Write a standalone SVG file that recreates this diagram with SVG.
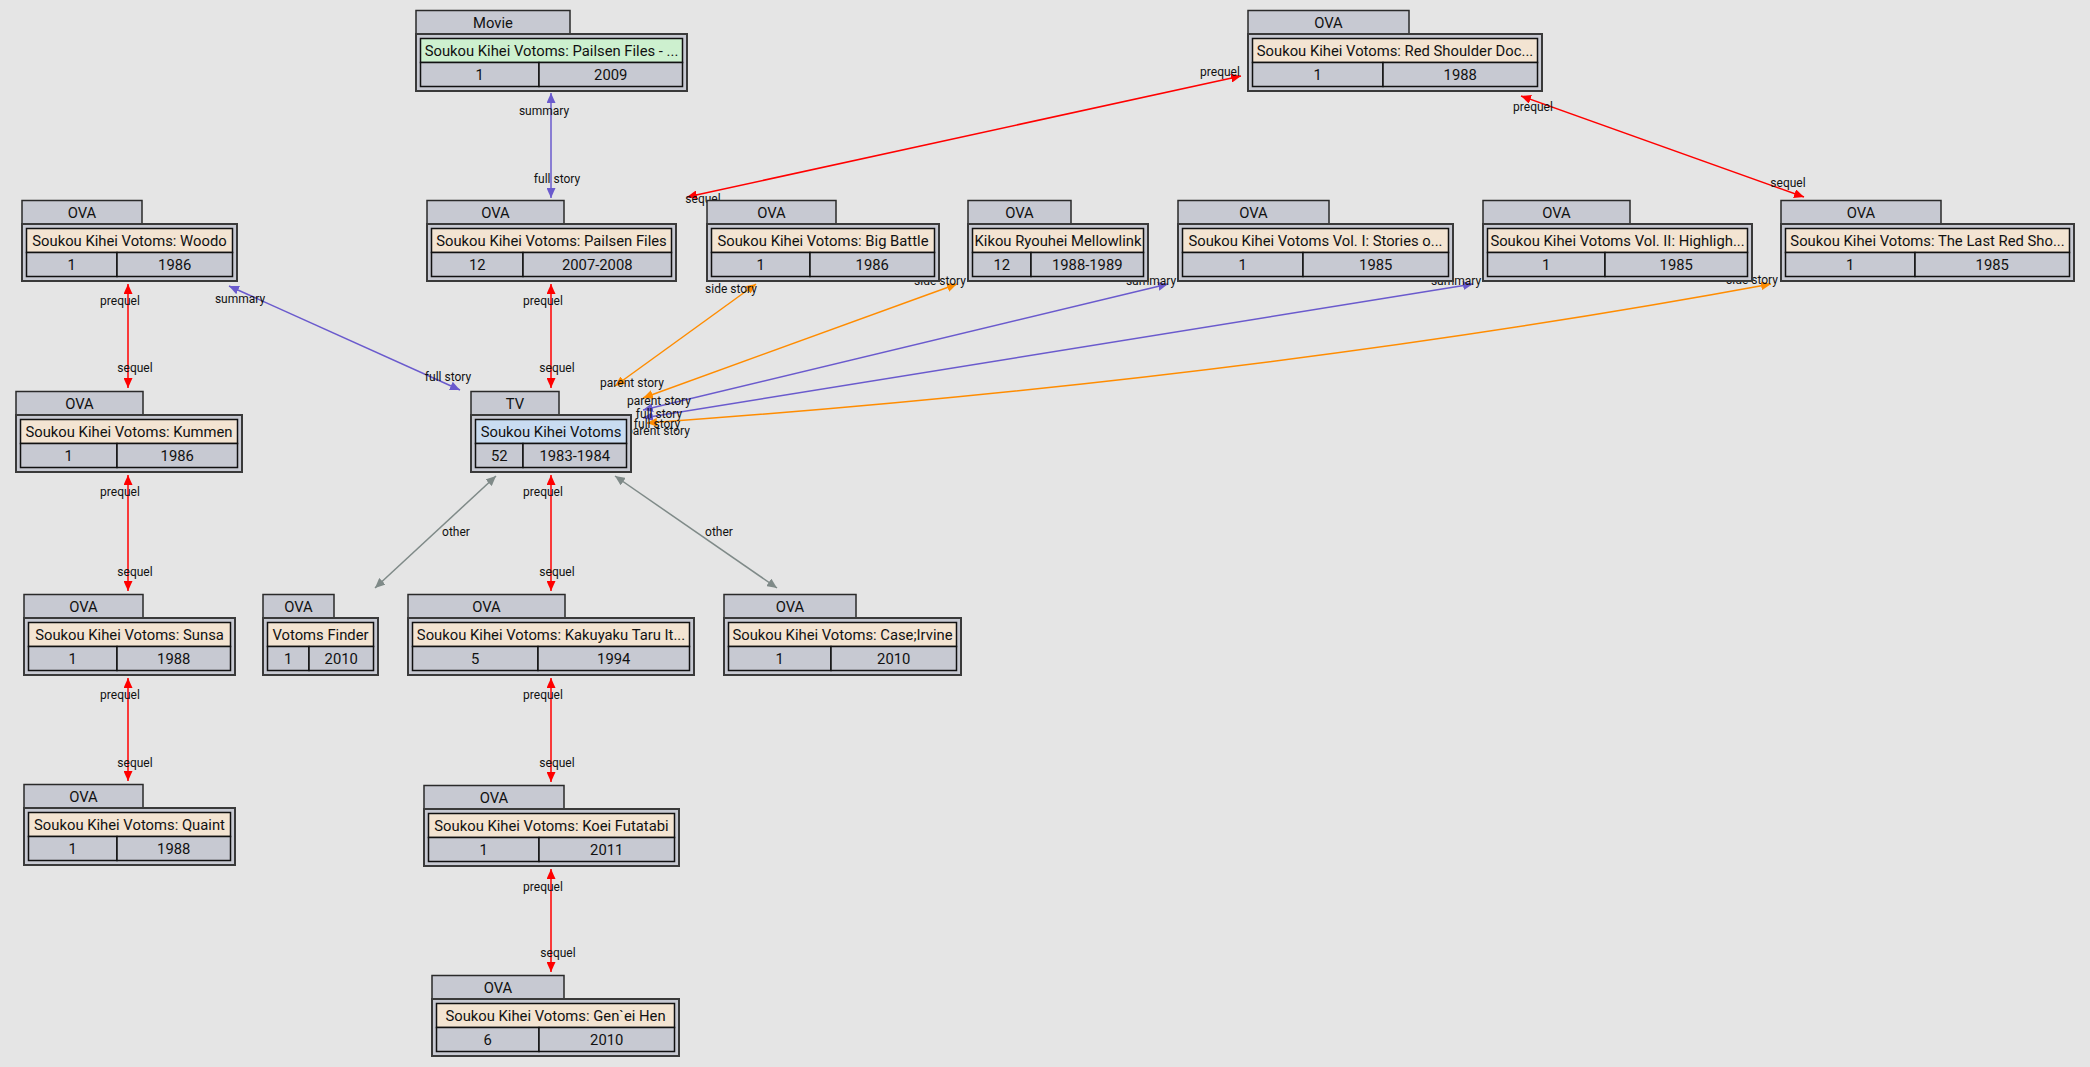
<svg xmlns="http://www.w3.org/2000/svg" width="2090" height="1067" viewBox="0 0 2090 1067">
<style>
text{font-family:Roboto,"Liberation Sans",sans-serif;fill:#111}
.tab,.box,.cell{fill:#c7c9d2}
.tab{stroke:#2a2a2a;stroke-width:1.5}
.box{stroke:#3a3a3a;stroke-width:2}
.cell{stroke:#111;stroke-width:1.5}
.ova{fill:#f3e4d2;stroke:#111;stroke-width:1.5}
.mov{fill:#cdf0cf;stroke:#111;stroke-width:1.5}
.tv{fill:#c9dcf1;stroke:#111;stroke-width:1.5}
.n text{font-size:14.8px;text-anchor:middle}
.e{fill:none;stroke-width:1.5}
.r{stroke:#ff0000}.p{stroke:#6a5acd}.o{stroke:#ff8c00}.g{stroke:#7f8a88}
.l text{font-size:12px;text-anchor:middle}
</style>
<defs>
<marker id="ar" viewBox="0 0 10 9" refX="10" refY="4.5" markerWidth="10" markerHeight="9" markerUnits="userSpaceOnUse" orient="auto-start-reverse"><path d="M0,0L10,4.5L0,9z" fill="#ff0000"/></marker>
<marker id="ap" viewBox="0 0 10 9" refX="10" refY="4.5" markerWidth="10" markerHeight="9" markerUnits="userSpaceOnUse" orient="auto-start-reverse"><path d="M0,0L10,4.5L0,9z" fill="#6a5acd"/></marker>
<marker id="ao" viewBox="0 0 10 9" refX="10" refY="4.5" markerWidth="10" markerHeight="9" markerUnits="userSpaceOnUse" orient="auto-start-reverse"><path d="M0,0L10,4.5L0,9z" fill="#ff8c00"/></marker>
<marker id="ag" viewBox="0 0 10 9" refX="10" refY="4.5" markerWidth="10" markerHeight="9" markerUnits="userSpaceOnUse" orient="auto-start-reverse"><path d="M0,0L10,4.5L0,9z" fill="#7f8a88"/></marker>
</defs>
<rect width="2090" height="1067" fill="#e5e5e5"/>

<g id="edges">
<path class="e p" d="M551,93L551,198" marker-start="url(#ap)" marker-end="url(#ap)"/>
<path class="e p" d="M229,286L460,390" marker-start="url(#ap)" marker-end="url(#ap)"/>
<path class="e r" d="M551,284L551,388" marker-start="url(#ar)" marker-end="url(#ar)"/>
<path class="e r" d="M128,284L128,388" marker-start="url(#ar)" marker-end="url(#ar)"/>
<path class="e r" d="M128,475L128,591" marker-start="url(#ar)" marker-end="url(#ar)"/>
<path class="e r" d="M128,678L128,781" marker-start="url(#ar)" marker-end="url(#ar)"/>
<path class="e g" d="M496,476L375,588" marker-start="url(#ag)" marker-end="url(#ag)"/>
<path class="e r" d="M551,475L551,591" marker-start="url(#ar)" marker-end="url(#ar)"/>
<path class="e g" d="M615,476L777,588" marker-start="url(#ag)" marker-end="url(#ag)"/>
<path class="e r" d="M551,678L551,782" marker-start="url(#ar)" marker-end="url(#ar)"/>
<path class="e r" d="M551,869L551,972" marker-start="url(#ar)" marker-end="url(#ar)"/>
<path class="e r" d="M1241,76L687,197" marker-start="url(#ar)" marker-end="url(#ar)"/>
<path class="e r" d="M1521,96L1804,197" marker-start="url(#ar)" marker-end="url(#ar)"/>
<path class="e o" d="M756,284L615,386" marker-start="url(#ao)" marker-end="url(#ao)"/>
<path class="e o" d="M957,284L643,398" marker-start="url(#ao)" marker-end="url(#ao)"/>
<path class="e p" d="M1168,284L643,410" marker-start="url(#ap)" marker-end="url(#ap)"/>
<path class="e p" d="M1473,284L643,418" marker-start="url(#ap)" marker-end="url(#ap)"/>
<path class="e o" d="M1771,284Q1250,380 647,423" marker-start="url(#ao)" marker-end="url(#ao)"/>
</g>

<g id="edge-labels" class="l">
<text x="544" y="115">summary</text><text x="557" y="183">full story</text>
<text x="240" y="303">summary</text><text x="448" y="381">full story</text>
<text x="543" y="305">prequel</text><text x="557" y="372">sequel</text>
<text x="120" y="305">prequel</text><text x="135" y="372">sequel</text>
<text x="120" y="496">prequel</text><text x="135" y="576">sequel</text>
<text x="120" y="699">prequel</text><text x="135" y="767">sequel</text>
<text x="456" y="536">other</text>
<text x="543" y="496">prequel</text><text x="557" y="576">sequel</text>
<text x="719" y="536">other</text>
<text x="543" y="699">prequel</text><text x="557" y="767">sequel</text>
<text x="543" y="891">prequel</text><text x="558" y="957">sequel</text>
<text x="1220" y="76">prequel</text><text x="703" y="203">sequel</text>
<text x="1533" y="111">prequel</text><text x="1788" y="187">sequel</text>
<text x="731" y="293">side story</text><text x="632" y="387">parent story</text>
<text x="940" y="285">side story</text><text x="659" y="405">parent story</text>
<text x="1151" y="285">summary</text><text x="659" y="418">full story</text>
<text x="1456" y="285">summary</text><text x="657" y="428">full story</text>
<text x="1752" y="284">side story</text><text x="658" y="435">parent story</text>
</g>

<g id="n-movie" class="n">
<rect class="tab" x="416" y="10.5" width="154" height="23.5"/><text x="493" y="27.5">Movie</text>
<rect class="box" x="416" y="34" width="271" height="57"/>
<rect class="mov" x="420.5" y="38.5" width="262" height="24"/><text x="551.5" y="55.5">Soukou Kihei Votoms: Pailsen Files - ...</text>
<rect class="cell" x="420.5" y="62.5" width="118.5" height="24"/><text x="479.75" y="79.5">1</text>
<rect class="cell" x="539" y="62.5" width="143.5" height="24"/><text x="610.75" y="79.5">2009</text>
</g>

<g id="n-redshoulderdoc" class="n">
<rect class="tab" x="1248" y="10.5" width="161" height="23.5"/><text x="1328.5" y="27.5">OVA</text>
<rect class="box" x="1248" y="34" width="294" height="57"/>
<rect class="ova" x="1252.5" y="38.5" width="285" height="24"/><text x="1395" y="55.5">Soukou Kihei Votoms: Red Shoulder Doc...</text>
<rect class="cell" x="1252.5" y="62.5" width="130.5" height="24"/><text x="1317.75" y="79.5">1</text>
<rect class="cell" x="1383" y="62.5" width="154.5" height="24"/><text x="1460.25" y="79.5">1988</text>
</g>

<g id="n-woodo" class="n">
<rect class="tab" x="22" y="200.5" width="120" height="23.5"/><text x="82" y="217.5">OVA</text>
<rect class="box" x="22" y="224" width="215" height="57"/>
<rect class="ova" x="26.5" y="228.5" width="206" height="24"/><text x="129.5" y="245.5">Soukou Kihei Votoms: Woodo</text>
<rect class="cell" x="26.5" y="252.5" width="90.5" height="24"/><text x="71.75" y="269.5">1</text>
<rect class="cell" x="117" y="252.5" width="115.5" height="24"/><text x="174.75" y="269.5">1986</text>
</g>

<g id="n-pailsen" class="n">
<rect class="tab" x="427" y="200.5" width="137" height="23.5"/><text x="495.5" y="217.5">OVA</text>
<rect class="box" x="427" y="224" width="249" height="57"/>
<rect class="ova" x="431.5" y="228.5" width="240" height="24"/><text x="551.5" y="245.5">Soukou Kihei Votoms: Pailsen Files</text>
<rect class="cell" x="431.5" y="252.5" width="91.5" height="24"/><text x="477.25" y="269.5">12</text>
<rect class="cell" x="523" y="252.5" width="148.5" height="24"/><text x="597.25" y="269.5">2007-2008</text>
</g>

<g id="n-bigbattle" class="n">
<rect class="tab" x="707" y="200.5" width="129" height="23.5"/><text x="771.5" y="217.5">OVA</text>
<rect class="box" x="707" y="224" width="232" height="57"/>
<rect class="ova" x="711.5" y="228.5" width="223" height="24"/><text x="823" y="245.5">Soukou Kihei Votoms: Big Battle</text>
<rect class="cell" x="711.5" y="252.5" width="98.5" height="24"/><text x="760.75" y="269.5">1</text>
<rect class="cell" x="810" y="252.5" width="124.5" height="24"/><text x="872.25" y="269.5">1986</text>
</g>

<g id="n-mellowlink" class="n">
<rect class="tab" x="968" y="200.5" width="103" height="23.5"/><text x="1019.5" y="217.5">OVA</text>
<rect class="box" x="968" y="224" width="180" height="57"/>
<rect class="ova" x="972.5" y="228.5" width="171" height="24"/><text x="1058" y="245.5">Kikou Ryouhei Mellowlink</text>
<rect class="cell" x="972.5" y="252.5" width="58.5" height="24"/><text x="1001.75" y="269.5">12</text>
<rect class="cell" x="1031" y="252.5" width="112.5" height="24"/><text x="1087.25" y="269.5">1988-1989</text>
</g>

<g id="n-stories" class="n">
<rect class="tab" x="1178" y="200.5" width="151" height="23.5"/><text x="1253.5" y="217.5">OVA</text>
<rect class="box" x="1178" y="224" width="275" height="57"/>
<rect class="ova" x="1182.5" y="228.5" width="266" height="24"/><text x="1315.5" y="245.5">Soukou Kihei Votoms Vol. I: Stories o...</text>
<rect class="cell" x="1182.5" y="252.5" width="120.5" height="24"/><text x="1242.75" y="269.5">1</text>
<rect class="cell" x="1303" y="252.5" width="145.5" height="24"/><text x="1375.75" y="269.5">1985</text>
</g>

<g id="n-highlights" class="n">
<rect class="tab" x="1483" y="200.5" width="147" height="23.5"/><text x="1556.5" y="217.5">OVA</text>
<rect class="box" x="1483" y="224" width="269" height="57"/>
<rect class="ova" x="1487.5" y="228.5" width="260" height="24"/><text x="1617.5" y="245.5">Soukou Kihei Votoms Vol. II: Highligh...</text>
<rect class="cell" x="1487.5" y="252.5" width="117.5" height="24"/><text x="1546.25" y="269.5">1</text>
<rect class="cell" x="1605" y="252.5" width="142.5" height="24"/><text x="1676.25" y="269.5">1985</text>
</g>

<g id="n-lastred" class="n">
<rect class="tab" x="1781" y="200.5" width="160" height="23.5"/><text x="1861" y="217.5">OVA</text>
<rect class="box" x="1781" y="224" width="293" height="57"/>
<rect class="ova" x="1785.5" y="228.5" width="284" height="24"/><text x="1927.5" y="245.5">Soukou Kihei Votoms: The Last Red Sho...</text>
<rect class="cell" x="1785.5" y="252.5" width="129.5" height="24"/><text x="1850.25" y="269.5">1</text>
<rect class="cell" x="1915" y="252.5" width="154.5" height="24"/><text x="1992.25" y="269.5">1985</text>
</g>

<g id="n-kummen" class="n">
<rect class="tab" x="16" y="391.5" width="127" height="23.5"/><text x="79.5" y="408.5">OVA</text>
<rect class="box" x="16" y="415" width="226" height="57"/>
<rect class="ova" x="20.5" y="419.5" width="217" height="24"/><text x="129" y="436.5">Soukou Kihei Votoms: Kummen</text>
<rect class="cell" x="20.5" y="443.5" width="96.5" height="24"/><text x="68.75" y="460.5">1</text>
<rect class="cell" x="117" y="443.5" width="120.5" height="24"/><text x="177.25" y="460.5">1986</text>
</g>

<g id="n-tv" class="n">
<rect class="tab" x="471" y="391.5" width="88" height="23.5"/><text x="515" y="408.5">TV</text>
<rect class="box" x="471" y="415" width="160" height="57"/>
<rect class="tv" x="475.5" y="419.5" width="151" height="24"/><text x="551" y="436.5">Soukou Kihei Votoms</text>
<rect class="cell" x="475.5" y="443.5" width="47.5" height="24"/><text x="499.25" y="460.5">52</text>
<rect class="cell" x="523" y="443.5" width="103.5" height="24"/><text x="574.75" y="460.5">1983-1984</text>
</g>

<g id="n-sunsa" class="n">
<rect class="tab" x="24" y="594.5" width="119" height="23.5"/><text x="83.5" y="611.5">OVA</text>
<rect class="box" x="24" y="618" width="211" height="57"/>
<rect class="ova" x="28.5" y="622.5" width="202" height="24"/><text x="129.5" y="639.5">Soukou Kihei Votoms: Sunsa</text>
<rect class="cell" x="28.5" y="646.5" width="88.5" height="24"/><text x="72.75" y="663.5">1</text>
<rect class="cell" x="117" y="646.5" width="113.5" height="24"/><text x="173.75" y="663.5">1988</text>
</g>

<g id="n-finder" class="n">
<rect class="tab" x="263" y="594.5" width="71" height="23.5"/><text x="298.5" y="611.5">OVA</text>
<rect class="box" x="263" y="618" width="115" height="57"/>
<rect class="ova" x="267.5" y="622.5" width="106" height="24"/><text x="320.5" y="639.5">Votoms Finder</text>
<rect class="cell" x="267.5" y="646.5" width="41.5" height="24"/><text x="288.25" y="663.5">1</text>
<rect class="cell" x="309" y="646.5" width="64.5" height="24"/><text x="341.25" y="663.5">2010</text>
</g>

<g id="n-kakuyaku" class="n">
<rect class="tab" x="408" y="594.5" width="157" height="23.5"/><text x="486.5" y="611.5">OVA</text>
<rect class="box" x="408" y="618" width="286" height="57"/>
<rect class="ova" x="412.5" y="622.5" width="277" height="24"/><text x="551" y="639.5">Soukou Kihei Votoms: Kakuyaku Taru It...</text>
<rect class="cell" x="412.5" y="646.5" width="125.5" height="24"/><text x="475.25" y="663.5">5</text>
<rect class="cell" x="538" y="646.5" width="151.5" height="24"/><text x="613.75" y="663.5">1994</text>
</g>

<g id="n-caseirvine" class="n">
<rect class="tab" x="724" y="594.5" width="132" height="23.5"/><text x="790" y="611.5">OVA</text>
<rect class="box" x="724" y="618" width="237" height="57"/>
<rect class="ova" x="728.5" y="622.5" width="228" height="24"/><text x="842.5" y="639.5">Soukou Kihei Votoms: Case;Irvine</text>
<rect class="cell" x="728.5" y="646.5" width="102.5" height="24"/><text x="779.75" y="663.5">1</text>
<rect class="cell" x="831" y="646.5" width="125.5" height="24"/><text x="893.75" y="663.5">2010</text>
</g>

<g id="n-quaint" class="n">
<rect class="tab" x="24" y="784.5" width="119" height="23.5"/><text x="83.5" y="801.5">OVA</text>
<rect class="box" x="24" y="808" width="211" height="57"/>
<rect class="ova" x="28.5" y="812.5" width="202" height="24"/><text x="129.5" y="829.5">Soukou Kihei Votoms: Quaint</text>
<rect class="cell" x="28.5" y="836.5" width="88.5" height="24"/><text x="72.75" y="853.5">1</text>
<rect class="cell" x="117" y="836.5" width="113.5" height="24"/><text x="173.75" y="853.5">1988</text>
</g>

<g id="n-koei" class="n">
<rect class="tab" x="424" y="785.5" width="140" height="23.5"/><text x="494" y="802.5">OVA</text>
<rect class="box" x="424" y="809" width="255" height="57"/>
<rect class="ova" x="428.5" y="813.5" width="246" height="24"/><text x="551.5" y="830.5">Soukou Kihei Votoms: Koei Futatabi</text>
<rect class="cell" x="428.5" y="837.5" width="110.5" height="24"/><text x="483.75" y="854.5">1</text>
<rect class="cell" x="539" y="837.5" width="135.5" height="24"/><text x="606.75" y="854.5">2011</text>
</g>

<g id="n-genei" class="n">
<rect class="tab" x="432" y="975.5" width="132" height="23.5"/><text x="498" y="992.5">OVA</text>
<rect class="box" x="432" y="999" width="247" height="57"/>
<rect class="ova" x="436.5" y="1003.5" width="238" height="24"/><text x="555.5" y="1020.5">Soukou Kihei Votoms: Gen`ei Hen</text>
<rect class="cell" x="436.5" y="1027.5" width="102.5" height="24"/><text x="487.75" y="1044.5">6</text>
<rect class="cell" x="539" y="1027.5" width="135.5" height="24"/><text x="606.75" y="1044.5">2010</text>
</g>
</svg>
